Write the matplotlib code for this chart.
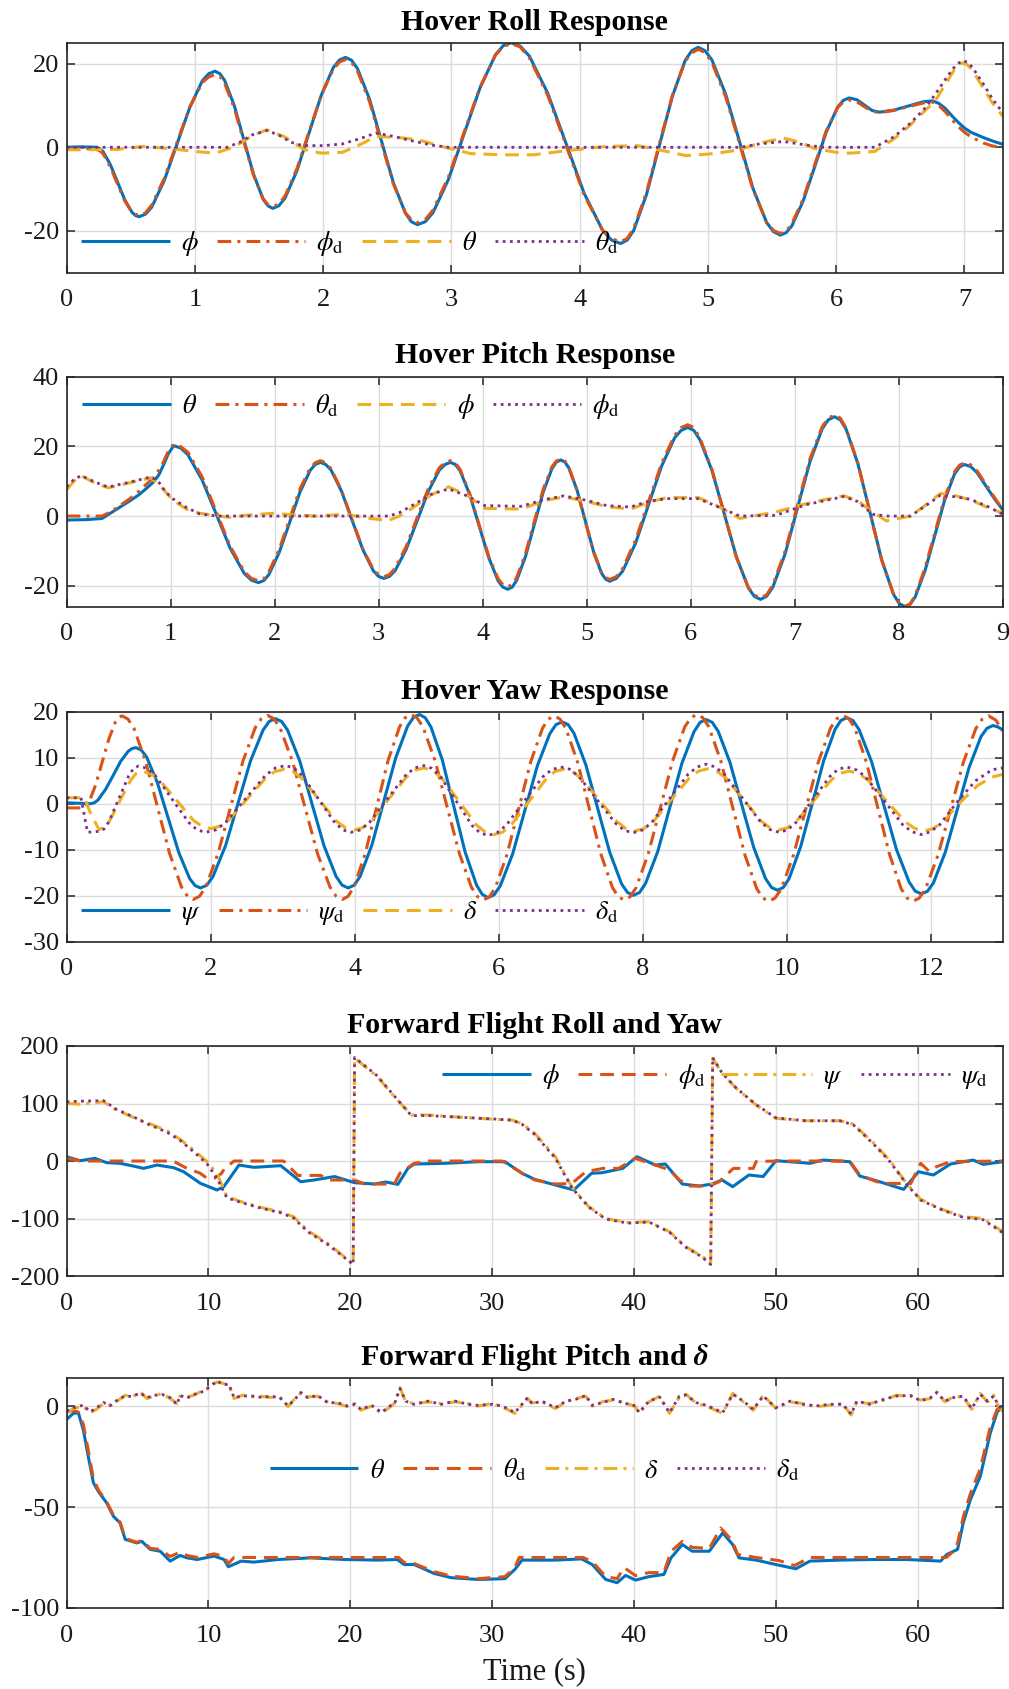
import matplotlib
matplotlib.use('Agg')
import matplotlib.pyplot as plt

plt.rcParams['font.family'] = ['Liberation Serif', 'DejaVu Serif']
plt.rcParams['mathtext.fontset'] = 'stix'
plt.rcParams['axes.unicode_minus'] = False

BLUE = '#0072BD'; ORANGE = '#D95319'; YELLOW = '#EDB120'; PURPLE = '#7E2F8E'

# ---------------- Hover Roll ----------------
t1_phi = [0, 0.1, 0.2, 0.23, 0.258, 0.286, 0.342, 0.397, 0.453, 0.509, 0.537, 0.565,
          0.614, 0.664, 0.762, 0.861, 0.960, 1.058, 1.108, 1.157,
          1.195, 1.232, 1.307, 1.382, 1.457, 1.532, 1.570, 1.607,
          1.654, 1.702, 1.796, 1.891, 1.986, 2.080, 2.128, 2.175,
          2.222, 2.268, 2.362, 2.455, 2.548, 2.642, 2.688, 2.735,
          2.796, 2.857, 2.978, 3.100, 3.222, 3.343, 3.404, 3.465,
          3.536, 3.608, 3.750, 3.893, 4.035, 4.178, 4.249, 4.320,
          4.370, 4.421, 4.521, 4.622, 4.723, 4.823, 4.874, 4.924,
          4.977, 5.031, 5.138, 5.245, 5.351, 5.458, 5.512, 5.565,
          5.610, 5.654, 5.743, 5.833, 5.922, 6.011, 6.055, 6.100,
          6.16, 6.22, 6.28, 6.337, 6.45, 6.6, 6.68, 6.75, 6.8, 6.85, 6.9, 6.95, 7.0,
          7.05, 7.15, 7.22, 7.3]
phi1 = [0.0, 0.1, 0.05, 0.0, -0.3, -1.1, -4.2, -8.3, -12.5, -15.5, -16.3, -16.6,
        -16.0, -14.3, -7.9, 0.8, 9.5, 15.9, 17.6, 18.2,
        17.6, 16.0, 10.0, 1.8, -6.4, -12.4, -14.0, -14.6,
        -14.0, -12.2, -5.6, 3.5, 12.5, 19.1, 20.9, 21.5,
        20.8, 18.8, 11.5, 1.5, -8.5, -15.8, -17.8, -18.5,
        -17.8, -15.6, -7.6, 3.3, 14.1, 22.1, 24.3, 25.0,
        24.2, 21.8, 13.0, 1.0, -11.0, -19.8, -22.2, -23.0,
        -22.2, -19.9, -11.3, 0.5, 12.2, 20.8, 23.1, 23.9,
        23.1, 20.9, 12.7, 1.5, -9.8, -18.0, -20.2, -21.0,
        -20.4, -18.8, -12.8, -4.6, 3.6, 9.6, 11.2, 11.8,
        11.4, 10.1, 8.8, 8.4, 8.9, 10.2, 10.9, 11.1, 10.5, 9.3, 7.6, 6.0, 4.6,
        3.6, 2.3, 1.5, 0.7]
phid1 = [-0.4, -0.4, -0.3, -0.5, -0.8, -1.6, -4.8, -8.8, -12.8, -15.5, -16.0, -16.3,
         -15.7, -13.8, -7.4, 1.2, 9.6, 15.5, 16.8, 17.4,
         16.9, 15.3, 9.4, 1.3, -6.6, -12.3, -13.7, -14.2,
         -13.6, -11.7, -5.1, 3.8, 12.5, 18.7, 20.4, 21.0,
         20.3, 18.2, 10.9, 1.0, -8.8, -15.7, -17.3, -18.0,
         -17.3, -15.0, -7.0, 3.7, 14.3, 22.0, 24.1, 24.8,
         24.0, 21.4, 12.5, 0.5, -11.4, -19.8, -21.8, -22.6,
         -21.8, -19.4, -10.8, 0.9, 12.4, 20.6, 22.6, 23.4,
         22.7, 20.3, 12.1, 1.0, -10.1, -18.0, -19.9, -20.6,
         -20.1, -18.3, -12.3, -4.1, 3.9, 9.5, 10.8, 11.3,
         10.9, 9.7, 8.6, 8.3, 8.8, 10.0, 10.6, 10.8, 10.0, 8.5, 6.7, 5.0, 3.6,
         2.5, 1.0, 0.3, 0.0]
t1_th = [0, 0.4, 0.6, 0.8, 1.0, 1.16, 1.3, 1.45, 1.56, 1.7, 1.85, 1.985, 2.15, 2.3, 2.41,
         2.6, 2.74, 2.95, 3.15, 3.4, 3.64, 3.9, 4.2, 4.45, 4.65, 4.83, 5.05, 5.25, 5.4, 5.59,
         5.72, 5.83, 6.0, 6.11, 6.3, 6.45, 6.58, 6.7, 6.77, 6.88, 6.93, 6.98, 7.02, 7.06,
         7.15, 7.22, 7.3]
th1 = [-0.6, -0.5, 0.2, -0.3, -1.0, -1.4, 0.0, 2.8, 4.2, 2.5, -0.5, -1.4, -1.2, 0.8, 2.6,
       2.3, 1.8, 0.0, -1.5, -1.8, -1.8, -0.8, 0.2, 0.4, -0.8, -2.0, -1.5, -0.6, 1.0, 2.2,
       1.2, -0.3, -1.2, -1.4, -1.0, 2.0, 5.4, 9.0, 11.0, 16.5, 19.0, 20.2, 19.8, 18.5,
       14.0, 10.5, 7.4]
t1_thd = [0, 1.25, 1.35, 1.45, 1.56, 1.65, 1.75, 1.84, 2.0, 2.15, 2.3, 2.41, 2.55, 2.7, 2.85,
          2.98, 5.25, 5.4, 5.59, 5.75, 5.9, 6.3, 6.45, 6.58, 6.7, 6.77, 6.88, 6.93, 6.98,
          7.02, 7.06, 7.15, 7.22, 7.3]
thd1 = [0.0, 0.0, 1.2, 3.0, 4.0, 3.0, 1.2, 0.4, 0.4, 0.8, 2.2, 3.4, 2.6, 1.5, 0.5,
        0.0, 0.0, 0.8, 1.4, 0.6, 0.0, 0.0, 2.5, 5.8, 9.6, 12.6, 17.5, 19.5, 20.7,
        20.4, 19.2, 15.0, 11.5, 8.2]

# ---------------- Hover Pitch ----------------
t2_th = [0, 0.2, 0.34, 0.43, 0.52, 0.6, 0.69, 0.77, 0.84, 0.89, 0.93, 0.98, 1.03,
         1.098, 1.166, 1.302, 1.438, 1.573, 1.709, 1.777, 1.845,
         1.895, 1.944, 2.043, 2.143, 2.242, 2.341, 2.39, 2.44,
         2.491, 2.542, 2.643, 2.745, 2.847, 2.948, 2.999, 3.05,
         3.103, 3.157, 3.263, 3.37, 3.477, 3.583, 3.637, 3.69,
         3.736, 3.782, 3.873, 3.965, 4.057, 4.148, 4.194, 4.24,
         4.283, 4.325, 4.41, 4.495, 4.58, 4.665, 4.708, 4.75,
         4.789, 4.828, 4.907, 4.985, 5.063, 5.142, 5.181, 5.22,
         5.283, 5.345, 5.47, 5.595, 5.72, 5.845, 5.908, 5.97,
         6.028, 6.087, 6.203, 6.32, 6.437, 6.553, 6.612, 6.67,
         6.729, 6.788, 6.907, 7.025, 7.143, 7.262, 7.321, 7.38,
         7.437, 7.493, 7.607, 7.72, 7.833, 7.947, 8.003, 8.06,
         8.108, 8.155, 8.25, 8.345, 8.44, 8.535, 8.583, 8.63,
         8.69, 8.75, 8.85, 8.93, 9.0]
th2 = [-1.15, -1.0, -0.7, 1.0, 2.7, 4.2, 6.0, 8.0, 9.9, 12.0, 14.6, 18.0, 20.2,
       19.5, 17.6, 10.4, 0.6, -9.3, -16.5, -18.4, -19.1,
       -18.5, -16.8, -10.5, -1.9, 6.8, 13.1, 14.8, 15.4,
       14.8, 13.2, 7.1, -1.3, -9.6, -15.7, -17.3, -17.9,
       -17.3, -15.7, -9.6, -1.3, 7.1, 13.2, 14.8, 15.4,
       14.8, 13.0, 6.3, -2.8, -11.9, -18.6, -20.4, -21.0,
       -20.4, -18.5, -11.7, -2.5, 6.8, 13.6, 15.5, 16.1,
       15.5, 13.8, 7.4, -1.3, -10.0, -16.4, -18.1, -18.7,
       -17.9, -15.8, -7.7, 3.4, 14.4, 22.5, 24.6, 25.4,
       24.6, 21.9, 13.1, 0.8, -11.6, -20.6, -23.1, -23.9,
       -23.0, -20.4, -10.8, 2.3, 15.4, 25.0, 27.6, 28.5,
       27.6, 24.9, 14.9, 1.3, -12.4, -22.4, -25.1, -26.0,
       -25.3, -23.3, -15.8, -5.6, 4.6, 12.1, 14.1, 14.8,
       14.2, 12.5, 8.0, 4.5, 1.7]
thd2 = [0.0, 0.0, 0.0, 1.3, 3.2, 4.8, 7.0, 9.2, 11.2, 13.3, 15.5, 18.8, 20.6,
        19.9, 18.3, 11.3, 1.3, -8.7, -16.0, -17.9, -18.6,
        -18.0, -16.0, -9.6, -0.9, 7.7, 13.8, 15.3, 15.9,
        15.3, 13.6, 7.3, -1.1, -9.4, -15.3, -16.8, -17.4,
        -16.8, -15.0, -8.8, -0.4, 7.9, 13.9, 15.3, 15.9,
        15.3, 13.4, 6.6, -2.5, -11.5, -18.0, -19.7, -20.3,
        -19.7, -17.7, -10.8, -1.6, 7.6, 14.2, 15.8, 16.4,
        15.8, 13.9, 7.3, -1.5, -10.2, -16.2, -17.6, -18.2,
        -17.4, -15.0, -6.8, 4.3, 15.2, 23.2, 25.4, 26.2,
        25.4, 22.4, 13.3, 0.8, -11.8, -20.5, -22.7, -23.5,
        -22.6, -19.8, -10.0, 3.1, 16.2, 25.6, 28.1, 29.0,
        28.1, 25.2, 15.0, 1.2, -12.5, -22.3, -25.0, -25.9,
        -25.2, -22.9, -15.0, -4.8, 5.4, 12.7, 14.6, 15.3,
        14.7, 13.0, 8.5, 4.8, 1.8]
t2_phi = [0, 0.07, 0.14, 0.27, 0.40, 0.6, 0.81, 0.92, 1.02, 1.15, 1.28, 1.57, 1.75, 1.98, 2.2,
          2.39, 2.68, 2.9, 3.09, 3.2, 3.32, 3.5, 3.67, 3.85, 4.02, 4.37, 4.6, 4.78, 5.0, 5.19,
          5.42, 5.6, 5.77, 6.07, 6.25, 6.47, 6.82, 7.1, 7.3, 7.47, 7.6, 7.7, 7.88, 8.11, 8.25,
          8.4, 8.55, 8.69, 8.85, 9.0]
phi2 = [7.5, 10.0, 11.6, 9.5, 8.1, 9.5, 11.0, 8.0, 4.6, 2.0, 0.8, -0.4, 0.3, 0.8, 0.3,
        0.0, 0.5, -0.6, -1.3, 0.0, 2.2, 6.0, 8.4, 6.0, 2.2, 2.0, 4.5, 5.5, 4.2, 2.7,
        2.0, 4.0, 5.3, 5.3, 3.0, -0.7, 1.2, 3.5, 4.8, 5.8, 4.5, 2.2, -1.4, 0.0, 3.0,
        6.5, 5.8, 4.6, 2.5, 0.8]
t2_phid = [0, 0.07, 0.14, 0.27, 0.40, 0.6, 0.81, 0.88, 0.95, 1.02, 1.15, 1.28, 1.45, 3.1, 3.2,
           3.32, 3.5, 3.67, 3.85, 4.02, 4.37, 4.6, 4.78, 5.0, 5.19, 5.42, 5.6, 5.77, 6.07, 6.25,
           6.47, 6.82, 7.1, 7.3, 7.47, 7.6, 7.75, 7.88, 8.11, 8.25, 8.4, 8.55, 8.69, 8.85, 9.0]
phid2 = [8.4, 10.5, 11.6, 9.8, 8.3, 9.7, 11.2, 10.0, 7.0, 5.0, 2.5, 0.6, 0.0, 0.0, 1.0,
         3.0, 6.2, 7.8, 5.8, 3.0, 2.8, 4.8, 5.8, 4.5, 3.0, 2.6, 4.3, 5.0, 5.0, 2.8,
         0.0, 0.2, 3.2, 4.5, 5.6, 4.2, 0.5, 0.0, 0.0, 2.8, 6.0, 5.5, 4.8, 2.8, 0.5]

# ---------------- Hover Yaw ----------------
t3_psi = [0, 0.2, 0.33, 0.383, 0.435, 0.54, 0.645, 0.75, 0.855, 0.908, 0.96,
          1.035, 1.11, 1.26, 1.41, 1.56, 1.71, 1.785, 1.86,
          1.947, 2.033, 2.207, 2.38, 2.553, 2.727, 2.813, 2.9,
          2.984, 3.068, 3.237, 3.405, 3.573, 3.742, 3.826, 3.91,
          3.993, 4.075, 4.24, 4.405, 4.57, 4.735, 4.818, 4.9,
          4.979, 5.058, 5.217, 5.375, 5.533, 5.692, 5.771, 5.85,
          5.936, 6.022, 6.193, 6.365, 6.537, 6.708, 6.794, 6.88,
          6.963, 7.045, 7.21, 7.375, 7.54, 7.705, 7.788, 7.87,
          7.954, 8.038, 8.207, 8.375, 8.543, 8.712, 8.796, 8.88,
          8.963, 9.045, 9.21, 9.375, 9.54, 9.705, 9.788, 9.87,
          9.95, 10.03, 10.19, 10.35, 10.51, 10.67, 10.75, 10.83,
          10.917, 11.003, 11.177, 11.35, 11.523, 11.697, 11.783, 11.87,
          11.953, 12.035, 12.2, 12.365, 12.53, 12.695, 12.778, 12.86, 12.93, 13.0]
psi3 = [0.2, 0.1, 0.0, 0.2, 0.8, 3.1, 6.1, 9.2, 11.4, 12.0, 12.2,
        11.7, 10.2, 4.6, -3.1, -10.7, -16.3, -17.8, -18.3,
        -17.7, -15.8, -9.1, 0.1, 9.3, 16.0, 17.9, 18.5,
        17.9, 16.0, 9.3, 0.1, -9.1, -15.8, -17.7, -18.3,
        -17.7, -15.8, -8.9, 0.6, 10.0, 16.9, 18.8, 19.4,
        18.7, 16.7, 9.5, -0.5, -10.5, -17.7, -19.7, -20.4,
        -19.8, -17.8, -10.9, -1.3, 8.3, 15.2, 17.2, 17.8,
        17.2, 15.3, 8.4, -1.1, -10.5, -17.4, -19.3, -19.9,
        -19.3, -17.3, -10.4, -0.8, 8.8, 15.7, 17.7, 18.3,
        17.7, 15.8, 9.0, -0.3, -9.5, -16.3, -18.2, -18.8,
        -18.2, -16.3, -9.4, -0.1, 9.3, 16.2, 18.1, 18.7,
        18.1, 16.1, 9.1, -0.5, -10.0, -17.0, -19.0, -19.6,
        -19.0, -17.2, -10.5, -1.3, 7.9, 14.6, 16.4, 17.0, 16.7, 16.0]
t3_psid = [0, 0.22, 0.266, 0.312, 0.403, 0.495, 0.587, 0.678, 0.724, 0.77,
           0.853, 0.935, 1.1, 1.265, 1.43, 1.595, 1.678, 1.76,
           1.846, 1.932, 2.103, 2.275, 2.447, 2.618, 2.704, 2.79,
           2.877, 2.963, 3.137, 3.31, 3.483, 3.657, 3.743, 3.83,
           3.909, 3.988, 4.147, 4.305, 4.463, 4.622, 4.701, 4.78,
           4.864, 4.948, 5.117, 5.285, 5.453, 5.622, 5.706, 5.79,
           5.872, 5.953, 6.117, 6.28, 6.443, 6.607, 6.688, 6.77,
           6.851, 6.932, 7.093, 7.255, 7.417, 7.578, 7.659, 7.74,
           7.824, 7.908, 8.077, 8.245, 8.413, 8.582, 8.666, 8.75,
           8.833, 8.917, 9.083, 9.25, 9.417, 9.583, 9.667, 9.75,
           9.836, 9.922, 10.093, 10.265, 10.437, 10.608, 10.694, 10.78,
           10.861, 10.942, 11.103, 11.265, 11.427, 11.588, 11.669, 11.75,
           11.838, 11.925, 12.1, 12.275, 12.45, 12.625, 12.713, 12.8, 12.9, 13.0]
psid3 = [-0.9, -0.9, -0.6, 0.4, 4.1, 9.1, 14.1, 17.8, 18.8, 19.1,
         18.4, 16.4, 9.1, -0.9, -10.8, -18.1, -20.1, -20.8,
         -20.1, -18.1, -10.8, -0.8, 9.2, 16.5, 18.5, 19.2,
         18.5, 16.5, 9.2, -0.8, -10.8, -18.1, -20.1, -20.8,
         -20.1, -18.1, -10.8, -0.7, 9.4, 16.7, 18.7, 19.4,
         18.7, 16.7, 9.3, -0.8, -10.8, -18.2, -20.2, -20.9,
         -20.2, -18.2, -10.9, -0.9, 9.1, 16.4, 18.4, 19.1,
         18.4, 16.4, 9.1, -0.9, -10.9, -18.2, -20.2, -20.9,
         -20.2, -18.2, -10.8, -0.8, 9.3, 16.7, 18.7, 19.4,
         18.7, 16.7, 9.3, -0.9, -11.1, -18.5, -20.5, -21.2,
         -20.5, -18.5, -11.1, -1.0, 9.1, 16.5, 18.5, 19.2,
         18.5, 16.5, 9.1, -1.0, -11.1, -18.5, -20.5, -21.2,
         -20.5, -18.5, -11.1, -1.1, 9.0, 16.4, 18.4, 19.1, 18.2, 15.8]
t3_del = [0, 0.25, 0.33, 0.45, 0.524, 0.598, 0.745, 0.893, 0.966, 1.04,
          1.16, 1.28, 1.52, 1.76, 1.88, 2.0,
          2.128, 2.255, 2.51, 2.765, 2.893, 3.02,
          3.141, 3.263, 3.505, 3.748, 3.869, 3.99,
          4.111, 4.233, 4.475, 4.718, 4.839, 4.96,
          5.081, 5.203, 5.445, 5.688, 5.809, 5.93,
          6.051, 6.173, 6.415, 6.658, 6.779, 6.9,
          7.024, 7.148, 7.395, 7.643, 7.766, 7.89,
          8.016, 8.143, 8.395, 8.648, 8.774, 8.9,
          9.024, 9.148, 9.395, 9.643, 9.766, 9.89,
          10.011, 10.133, 10.375, 10.618, 10.739, 10.86,
          10.991, 11.123, 11.385, 11.648, 11.779, 11.91,
          12.03, 12.15, 12.4, 12.65, 12.85, 13.0]
del3 = [1.3, 1.3, -2.0, -5.6, -5.1, -3.7, 0.8, 5.2, 6.6, 7.1,
        6.6, 5.3, 0.9, -3.6, -4.9, -5.4,
        -4.9, -3.5, 1.1, 5.6, 7.0, 7.5,
        7.0, 5.6, 0.9, -3.8, -5.2, -5.7,
        -5.2, -3.7, 1.1, 5.8, 7.3, 7.8,
        7.2, 5.7, 0.6, -4.6, -6.1, -6.7,
        -6.2, -4.6, 0.4, 5.4, 7.0, 7.5,
        7.0, 5.5, 0.8, -3.9, -5.4, -5.9,
        -5.4, -3.9, 0.9, 5.6, 7.1, 7.6,
        7.1, 5.7, 1.0, -3.8, -5.2, -5.7,
        -5.2, -3.8, 0.7, 5.2, 6.6, 7.1,
        6.6, 5.2, 0.6, -4.0, -5.4, -5.9,
        -5.4, -4.2, 0.2, 4.0, 5.8, 6.4]
t3_deld = [0, 0.2, 0.29, 0.45, 0.519, 0.588, 0.725, 0.863, 0.931, 1.0,
           1.116, 1.233, 1.465, 1.698, 1.814, 1.93,
           2.069, 2.208, 2.485, 2.763, 2.901, 3.04,
           3.154, 3.268, 3.495, 3.723, 3.836, 3.95,
           4.076, 4.203, 4.455, 4.708, 4.834, 4.96,
           5.071, 5.183, 5.405, 5.628, 5.739, 5.85,
           5.976, 6.103, 6.355, 6.608, 6.734, 6.86,
           6.986, 7.113, 7.365, 7.618, 7.744, 7.87,
           7.996, 8.123, 8.375, 8.628, 8.754, 8.88,
           9.006, 9.133, 9.385, 9.638, 9.764, 9.89,
           10.008, 10.125, 10.36, 10.595, 10.713, 10.83,
           10.96, 11.09, 11.35, 11.61, 11.74, 11.87,
           11.99, 12.12, 12.37, 12.62, 12.85, 13.0]
deld3 = [1.3, 1.3, -6.2, -6.0, -5.5, -3.9, 1.1, 6.1, 7.7, 8.2,
         7.7, 6.1, 1.0, -4.1, -5.7, -6.2,
         -5.7, -4.1, 1.1, 6.2, 7.8, 8.3,
         7.8, 6.2, 1.1, -4.1, -5.7, -6.2,
         -5.7, -4.1, 1.1, 6.2, 7.8, 8.3,
         7.7, 6.1, 0.7, -4.7, -6.3, -6.9,
         -6.3, -4.7, 0.6, 5.8, 7.4, 8.0,
         7.5, 5.9, 0.9, -4.2, -5.8, -6.3,
         -5.7, -4.1, 1.2, 6.4, 8.0, 8.6,
         8.0, 6.4, 1.2, -4.0, -5.6, -6.2,
         -5.7, -4.1, 0.9, 5.9, 7.5, 8.0,
         7.4, 5.9, 0.7, -4.6, -6.1, -6.7,
         -6.1, -4.6, 0.5, 5.0, 7.4, 7.8]

# ---------------- Forward Flight Roll and Yaw ----------------
t4_phi = [0, 0.94, 2.0, 2.83, 3.77, 4.7, 5.42, 6.37, 7.55, 8.25, 9.43, 10.6, 11.08, 12.15,
          13.2, 15.1, 16.5, 17.45, 18.9, 20.3, 21.7, 22.5, 23.35, 24.06, 24.5, 26.65, 29.0,
          30.9, 32.1, 33.0, 34.45, 35.75, 37.0, 37.75, 39.2, 40.2, 41.5, 42.2, 43.4, 44.6,
          45.5, 46.2, 46.95, 48.1, 49.1, 50.0, 52.4, 53.3, 55.2, 55.9, 57.3, 59.0, 60.05,
          61.1, 62.3, 63.9, 64.6, 66.0]
phi4 = [7.5, 0.6, 4.6, -2.9, -4.0, -8.7, -12.8, -7.0, -11.6, -18.6, -38.8, -50.4, -44.6, -7.0,
        -11.0, -8.1, -36.0, -33.0, -27.0, -37.7, -40.0, -36.5, -40.6, -12.8, -5.2, -4.0, -1.2,
        -1.2, -21.4, -31.9, -41.7, -50.4, -21.4, -20.3, -12.8, 7.5, -7.0, -5.2, -40.0, -43.5,
        -40.0, -33.0, -44.6, -24.3, -27.0, 0.6, -4.0, 1.7, -1.2, -26.0, -36.0, -49.3, -18.6,
        -24.3, -5.2, 1.7, -5.8, -1.2]
t4_phid = [0, 1.0, 7.5, 8.5, 9.4, 9.9, 10.4, 10.9, 11.1, 11.8, 15.3, 16.3, 17.9, 18.5, 20.3,
           21.0, 23.1, 23.5, 24.5, 25.5, 30.7, 32.3, 33.0, 34.45, 35.6, 35.9, 36.6, 37.8, 38.9,
           40.1, 41.5, 42.5, 43.2, 43.9, 45.3, 46.0, 47.0, 48.4, 48.6, 50.0, 55.2, 55.9, 57.1,
           58.0, 59.5, 60.2, 60.8, 61.3, 62.3, 66.0]
phid4 = [5.0, 0.0, 0.0, -13.0, -21.0, -30.0, -30.0, -22.0, -14.5, 0.0, 0.0, -25.0, -25.0, -33.0,
         -33.0, -40.0, -40.0, -21.0, -4.0, 0.0, 0.0, -24.0, -33.0, -40.0, -39.0, -33.0, -18.6,
         -12.8, -12.8, 4.6, -7.0, -15.6, -33.0, -43.5, -43.5, -36.0, -12.8, -12.8, -1.0, 0.0,
         0.0, -24.0, -36.0, -39.0, -39.0, -4.0, -18.0, -10.0, -1.0, 0.0]
t4_psi = [0, 0.94, 2.6, 3.5, 4.7, 5.66, 7.08, 8.0, 8.96, 9.9, 10.6, 11.3, 12.3, 13.7, 15.1,
          16.0, 17.0, 18.4, 19.8, 20.2, 20.3, 20.75, 21.9, 23.1, 24.3, 25.5, 27.8, 30.2, 31.4,
          32.1, 33.0, 34.45, 35.6, 36.8, 38.0, 39.6, 41.05, 42.5, 43.65, 44.8, 45.4, 45.54,
          46.2, 47.2, 48.6, 50.0, 52.1, 54.5, 55.45, 56.9, 58.0, 59.2, 60.2, 61.8, 63.2, 64.6,
          66.0]
psi4 = [100.3, 98.6, 103.0, 88.7, 76.0, 66.7, 52.8, 37.7, 19.0, -1.0, -21.4, -62.0, -70.7,
        -80.6, -88.7, -96.8, -121.0, -143.0, -171.0, -178.0, 178.6, 170.0, 146.7, 112.0, 80.0,
        80.0, 76.0, 72.5, 71.3, 65.0, 48.0, 7.5, -44.6, -79.4, -100.0, -107.0, -105.5, -123.0,
        -149.0, -166.0, -177.0, 178.6, 152.5, 126.4, 97.4, 74.2, 70.0, 70.0, 64.3, 30.7, 1.7,
        -38.8, -66.7, -85.0, -96.8, -100.0, -123.0]
psid4 = [103.0, 104.0, 105.0, 90.0, 77.0, 65.0, 50.0, 36.0, 16.0, -5.0, -30.0, -64.0, -72.0,
         -82.0, -90.0, -99.0, -123.0, -145.0, -172.0, -180.0, 180.0, 171.0, 148.0, 113.0, 79.0,
         79.0, 76.0, 73.0, 71.0, 64.0, 46.0, 5.0, -46.0, -80.0, -101.0, -108.0, -106.0, -124.0,
         -150.0, -167.0, -180.0, 180.0, 153.0, 127.0, 98.0, 75.0, 70.0, 70.0, 63.0, 29.0, 0.0,
         -40.0, -68.0, -86.0, -98.0, -102.0, -125.0]

# ---------------- Forward Flight Pitch and delta ----------------
t5_th = [0, 0.47, 0.83, 1.18, 1.53, 1.89, 2.24, 2.83, 3.3, 3.77, 4.13, 4.95, 5.3, 5.9, 6.6,
         7.3, 8.0, 8.5, 9.2, 10.4, 11.1, 11.4, 12.3, 13.2, 14.9, 17.2, 19.6, 21.9, 23.3, 23.8,
         24.5, 25.9, 27.1, 29.0, 30.9, 31.6, 32.1, 34.45, 36.3, 37.05, 38.0, 38.8, 39.4, 40.1,
         41.05, 42.1, 42.6, 43.4, 44.1, 45.3, 46.25, 46.95, 47.4, 48.6, 50.0, 51.4, 52.4, 54.5,
         56.9, 59.2, 61.6, 62.05, 62.8, 63.2, 63.7, 64.4, 65.1, 65.6, 66.0]
th5 = [-6.6, -3.6, -3.3, -11.8, -25.0, -38.0, -42.3, -48.0, -54.6, -57.9, -66.0, -67.8, -67.0,
       -71.0, -71.9, -76.8, -74.0, -75.2, -76.0, -74.3, -76.0, -79.6, -76.8, -77.3, -76.0,
       -75.2, -76.0, -76.3, -76.0, -78.5, -78.5, -82.9, -85.0, -85.9, -85.5, -80.9, -76.3,
       -76.3, -75.7, -78.5, -85.9, -87.5, -83.9, -86.2, -84.5, -83.4, -75.2, -68.6, -71.9,
       -71.9, -62.8, -68.6, -75.2, -76.3, -78.5, -80.6, -76.8, -76.3, -76.0, -76.0, -76.8,
       -73.5, -71.0, -57.9, -46.4, -34.9, -13.5, -2.8, 0.0]
t5_thd = [0, 0.47, 0.83, 1.18, 1.53, 1.89, 2.24, 2.83, 3.3, 3.77, 4.13, 4.95, 5.3, 5.9, 6.6,
          7.3, 8.0, 8.5, 9.2, 10.4, 11.1, 11.4, 11.8, 23.4, 23.8, 24.5, 25.9, 27.1, 29.0, 30.9,
          31.6, 31.9, 36.4, 37.05, 38.0, 38.8, 39.3, 40.1, 41.05, 42.1, 42.6, 43.4, 44.1, 45.3,
          46.1, 46.9, 47.3, 48.6, 50.2, 51.3, 52.4, 62.0, 62.5, 62.8, 63.2, 63.7, 64.4, 65.1,
          65.6, 66.0]
thd5 = [-3.0, -2.0, -3.0, -9.0, -22.0, -36.0, -41.5, -47.5, -54.0, -57.5, -65.5, -67.5, -66.5,
        -70.5, -71.0, -74.5, -72.4, -74.0, -75.0, -73.2, -74.5, -78.0, -75.0, -75.0, -77.5,
        -78.0, -82.0, -84.2, -85.5, -84.5, -80.0, -75.0, -75.0, -77.0, -84.5, -85.5, -80.0,
        -84.0, -82.5, -82.5, -72.0, -67.0, -70.0, -70.5, -60.4, -66.5, -73.5, -75.0, -76.5,
        -79.0, -75.0, -75.0, -72.0, -68.0, -55.0, -43.5, -31.0, -10.5, -1.5, 0.5]
t5_del = [0, 0.47, 1.18, 1.65, 2.1, 2.6, 3.07, 3.66, 4.13, 4.6,
          5.2, 5.66, 6.13, 6.72, 7.3, 7.78, 8.0, 8.5, 8.96, 9.43,
          10.0, 10.6, 11.08, 11.44, 11.8, 12.4, 13.0, 13.7, 14.4, 15.0,
          15.6, 16.0, 16.5, 17.0, 17.7, 18.4, 19.1, 19.8, 20.3, 20.75,
          21.5, 22.2, 22.8, 23.1, 23.5, 23.9, 24.5, 25.5, 26.4, 27.4,
          28.3, 29.0, 29.95, 30.7, 31.6, 32.5, 32.8, 33.5, 34.45, 35.2,
          35.9, 36.6, 37.05, 37.75, 38.5, 39.2, 40.1, 40.35, 41.05, 41.8,
          42.5, 43.2, 43.65, 44.4, 45.1, 46.25, 46.95, 47.7, 48.4, 49.1,
          50.0, 51.0, 51.9, 52.85, 53.8, 54.7, 55.3, 55.7, 56.6, 57.6,
          58.5, 59.5, 60.2, 60.9, 61.35, 61.9, 62.5, 63.2, 63.8, 64.4,
          64.9, 65.35, 65.7, 66.0]
del5 = [-3.3, -1.2, 0.0, -3.3, -1.6, 1.3, 0.5, 3.0, 5.4, 4.3,
        7.1, 3.8, 4.9, 6.3, 3.8, 1.3, 4.9, 4.6, 5.4, 7.1,
        8.7, 12.0, 11.2, 10.4, 3.8, 5.4, 4.6, 4.9, 4.3, 4.9,
        -0.3, 3.0, 6.3, 4.6, 4.9, 2.1, 1.3, -0.3, 1.3, -2.0,
        0.0, -3.6, -0.3, 1.3, 9.2, 2.1, 1.3, 2.1, 1.3, 2.1,
        1.3, 0.0, 1.3, -0.3, -3.6, 3.8, 1.6, 2.1, -1.2, 2.1,
        3.8, 4.9, 0.0, 2.1, 3.0, 2.1, -0.3, -3.6, 2.1, 4.9,
        -3.6, 4.6, 5.9, 1.3, 0.0, -3.6, 6.3, 2.1, -2.0, 5.4,
        -1.2, 2.1, 1.3, -0.3, 0.5, 1.3, -4.4, 2.1, 1.3, 3.0,
        5.4, 4.9, 3.0, 3.8, 7.1, 2.1, 4.6, 4.6, -1.6, 6.3,
        2.1, 5.4, -0.3, -2.8]
deld5 = [-2.5, -0.8, 0.5, -2.8, -1.0, 1.8, 0.2, 3.5, 5.0, 4.8,
         6.5, 4.2, 5.3, 5.8, 4.2, 0.8, 5.3, 4.0, 5.8, 6.6,
         9.2, 12.5, 10.6, 10.9, 4.2, 5.0, 5.1, 4.4, 4.8, 4.4,
         0.2, 2.6, 6.8, 4.2, 5.3, 1.7, 1.7, 0.1, 0.9, -1.6,
         0.4, -3.1, 0.1, 0.9, 8.7, 2.5, 0.9, 2.5, 0.9, 2.5,
         0.9, 0.4, 0.9, 0.1, -3.2, 4.2, 1.2, 2.5, -0.8, 2.5,
         3.4, 5.3, 0.4, 1.7, 3.4, 1.7, 0.1, -3.2, 2.5, 4.5,
         -3.2, 5.0, 5.5, 1.7, 0.4, -3.2, 5.9, 2.5, -1.6, 5.0,
         -0.8, 2.5, 0.9, 0.1, 0.9, 0.9, -4.0, 2.5, 0.9, 3.4,
         5.0, 5.3, 2.6, 4.2, 6.7, 2.5, 4.2, 5.0, -1.2, 5.9,
         2.5, 5.0, 0.1, -2.4]

titles = ['Hover Roll Response', 'Hover Pitch Response', 'Hover Yaw Response',
          'Forward Flight Roll and Yaw', r'Forward Flight Pitch and $\mathbfit{\delta}$']

# ---------------- styles ----------------
LW = 2.2
SOLID = dict(color=BLUE, lw=LW, solid_capstyle='butt', solid_joinstyle='round')
def dashdot(c):
    return dict(color=c, lw=LW, dashes=(4.5, 2.0, 1.0, 2.0), dash_capstyle='butt')
def dashed(c):
    return dict(color=c, lw=LW, dashes=(4.5, 2.6), dash_capstyle='butt')
DOT = dict(color=PURPLE, lw=2.0, dashes=(1.0, 1.6), dash_capstyle='butt')

fig = plt.figure(figsize=(10.09, 16.89), dpi=100)
L, W, H = 0.066, 0.928, 0.1362
bottoms = [0.8385, 0.6408, 0.4424, 0.2445, 0.0480]
axes = [fig.add_axes([L, b, W, H]) for b in bottoms]

def style(ax, xlim, xticks, ylim, yticks, title):
    ax.set_xlim(*xlim); ax.set_ylim(*ylim)
    ax.set_xticks(xticks); ax.set_yticks(yticks)
    ax.grid(True, color='#dcdcdc', lw=1.0)
    ax.set_axisbelow(True)
    ax.tick_params(direction='in', top=True, right=True, length=6, width=1.1,
                   labelsize=19, color='#262626', labelcolor='#1a1a1a')
    ax.tick_params(axis='x', pad=12)
    ax.tick_params(axis='y', pad=5.5)
    for s in ax.spines.values():
        s.set_color('#262626'); s.set_linewidth(1.2)
    ax.set_title(title, fontsize=21.5, fontweight='bold', pad=9.5)

LEG = dict(ncol=4, frameon=False, fontsize=19, handlelength=3.35, handletextpad=0.42,
           columnspacing=0.7)

# 1
ax = axes[0]
ax.plot(t1_phi, phi1, label=r'$\phi$', **SOLID)
ax.plot(t1_phi, phid1, label=r'$\phi_{\mathrm{d}}$', **dashdot(ORANGE))
ax.plot(t1_th, th1, label=r'$\theta$', **dashed(YELLOW))
ax.plot(t1_thd, thd1, label=r'$\theta_{\mathrm{d}}$', **DOT)
style(ax, (0, 7.3), range(0, 8), (-30, 25), [-20, 0, 20], titles[0])
ax.legend(loc='lower left', borderaxespad=0.15, **LEG)

# 2
ax = axes[1]
ax.plot(t2_th, th2, label=r'$\theta$', **SOLID)
ax.plot(t2_th, thd2, label=r'$\theta_{\mathrm{d}}$', **dashdot(ORANGE))
ax.plot(t2_phi, phi2, label=r'$\phi$', **dashed(YELLOW))
ax.plot(t2_phid, phid2, label=r'$\phi_{\mathrm{d}}$', **DOT)
style(ax, (0, 9), range(0, 10), (-26, 40), [-20, 0, 20, 40], titles[1])
ax.legend(loc='upper left', borderaxespad=0.2, **LEG)

# 3
ax = axes[2]
ax.plot(t3_psi, psi3, label=r'$\psi$', **SOLID)
ax.plot(t3_psid, psid3, label=r'$\psi_{\mathrm{d}}$', **dashdot(ORANGE))
ax.plot(t3_del, del3, label=r'$\delta$', **dashed(YELLOW))
ax.plot(t3_deld, deld3, label=r'$\delta_{\mathrm{d}}$', **DOT)
style(ax, (0, 13), range(0, 13, 2), (-30, 20), range(-30, 21, 10), titles[2])
ax.legend(loc='lower left', borderaxespad=0.15, **LEG)

# 4
ax = axes[3]
ax.plot(t4_phi, phi4, label=r'$\phi$', **SOLID)
ax.plot(t4_phid, phid4, label=r'$\phi_{\mathrm{d}}$', **dashed(ORANGE))
ax.plot(t4_psi, psi4, label=r'$\psi$', **dashdot(YELLOW))
ax.plot(t4_psi, psid4, label=r'$\psi_{\mathrm{d}}$', **DOT)
style(ax, (0, 66), range(0, 61, 10), (-200, 200), range(-200, 201, 100), titles[3])
ax.legend(loc='upper right', borderaxespad=0.2, **LEG)

# 5
ax = axes[4]
ax.plot(t5_th, th5, label=r'$\theta$', **SOLID)
ax.plot(t5_thd, thd5, label=r'$\theta_{\mathrm{d}}$', **dashed(ORANGE))
ax.plot(t5_del, del5, label=r'$\delta$', **dashdot(YELLOW))
ax.plot(t5_del, deld5, label=r'$\delta_{\mathrm{d}}$', **DOT)
style(ax, (0, 66), range(0, 61, 10), (-100, 14), [-100, -50, 0], titles[4])
ax.legend(loc='center', bbox_to_anchor=(0.5, 0.6), **LEG)
ax.set_xlabel('Time (s)', fontsize=22, labelpad=8, color='#1a1a1a')

fig.savefig('out.png', dpi=100)
